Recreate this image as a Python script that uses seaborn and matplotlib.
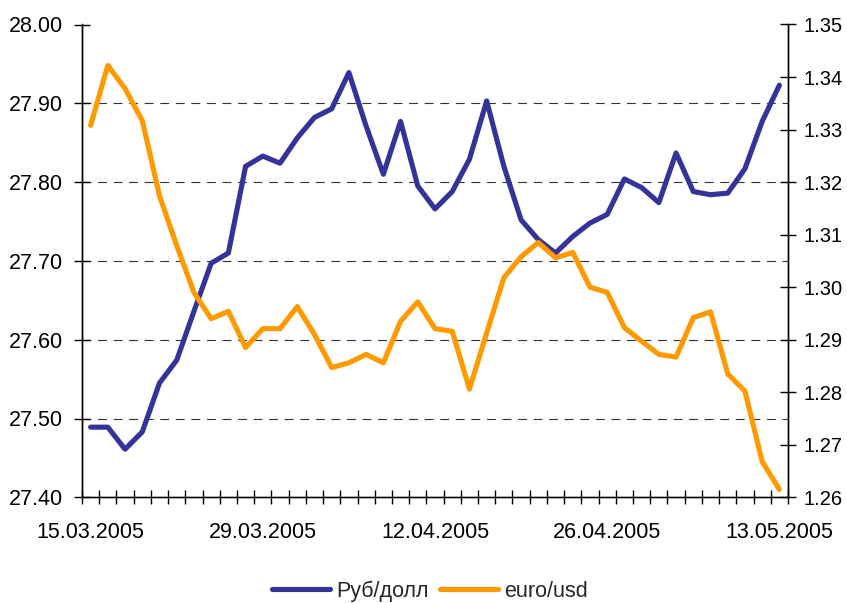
import matplotlib
matplotlib.use("Agg")
import matplotlib.pyplot as plt
import seaborn as sns
import pandas as pd
import numpy as np
from matplotlib.ticker import FixedLocator

# ---- data ----
tick_labels = ["15.03.2005", "29.03.2005", "12.04.2005", "26.04.2005", "13.05.2005"]
rub_usd = [27.489, 27.489, 27.461, 27.483, 27.545, 27.574, 27.636, 27.697, 27.710, 27.820,
           27.833, 27.824, 27.856, 27.882, 27.893, 27.939, 27.871, 27.810, 27.877, 27.795,
           27.766, 27.788, 27.829, 27.903, 27.820, 27.752, 27.727, 27.710, 27.731, 27.748,
           27.759, 27.804, 27.793, 27.774, 27.837, 27.788, 27.784, 27.786, 27.817, 27.877,
           27.923]
euro_usd = [1.3308, 1.3422, 1.3378, 1.3317, 1.3174, 1.3079, 1.2990, 1.2940, 1.2954, 1.2885,
            1.2921, 1.2921, 1.2963, 1.2910, 1.2847, 1.2856, 1.2872, 1.2856, 1.2935, 1.2972,
            1.2921, 1.2916, 1.2806, 1.2913, 1.3018, 1.3058, 1.3085, 1.3056, 1.3066, 1.3000,
            1.2990, 1.2923, 1.2897, 1.2872, 1.2867, 1.2942, 1.2953, 1.2835, 1.2802, 1.2668,
            1.2615]
series_names = ["Руб/долл", "euro/usd"]
colors = ["#333399", "#FF9900"]

n = len(rub_usd)
df = pd.DataFrame({"idx": np.arange(n), "rub": rub_usd, "eur": euro_usd})

sns.set_style("white")
plt.rcParams["font.family"] = ["Liberation Sans", "DejaVu Sans"]

fig = plt.figure(figsize=(8.47, 6.03), dpi=100)
ax = fig.add_axes([82 / 847, 1 - 497.3 / 603, (788 - 82) / 847, (497.3 - 24.5) / 603])
ax2 = ax.twinx()

sns.lineplot(data=df, x="idx", y="rub", ax=ax, color=colors[0], linewidth=3.7,
             label=series_names[0], legend=False)
sns.lineplot(data=df, x="idx", y="eur", ax=ax2, color=colors[1], linewidth=3.7,
             label=series_names[1], legend=False)

ax.set_xlim(-0.5, n - 0.5)
ax.set_ylim(27.4, 28.0)
ax2.set_ylim(1.26, 1.35)
ax.set_xlabel("")
ax.set_ylabel("")
ax2.set_ylabel("")

# grid lines (dashed)
for v in [27.5, 27.6, 27.7, 27.8, 27.9]:
    ax.axhline(v, color="#333333", linewidth=0.8, linestyle=(0, (8, 6)), zorder=0)

# y ticks
ax.set_yticks(np.round(np.arange(27.4, 28.001, 0.1), 2))
ax.set_yticklabels([f"{v:.2f}" for v in np.arange(27.4, 28.001, 0.1)])
ax2.set_yticks(np.round(np.arange(1.26, 1.3501, 0.01), 2))
ax2.set_yticklabels([f"{v:.2f}" for v in np.arange(1.26, 1.3501, 0.01)])

# x ticks
ax.set_xticks([0, 10, 20, 30, 40])
ax.set_xticklabels(tick_labels)
ax.xaxis.set_minor_locator(FixedLocator(np.arange(-0.5, n, 1.0)))

for a in (ax, ax2):
    for s in a.spines.values():
        s.set_color("black")
        s.set_linewidth(1.0)
    a.spines["top"].set_visible(False)

fs = 15.5
ax.tick_params(axis="y", direction="inout", length=12, width=1, labelsize=fs,
               pad=8, left=True, colors="black")
ax2.tick_params(axis="y", direction="inout", length=12, width=1, labelsize=14.5,
                pad=5, right=True, colors="black")
ax.tick_params(axis="x", which="major", length=0, labelsize=fs, pad=18, colors="black")
ax.tick_params(axis="x", which="minor", direction="inout", length=10, width=1,
               bottom=True, color="black")
ax.spines["bottom"].set_color("#555555")

h1, l1 = ax.get_legend_handles_labels()
h2, l2 = ax2.get_legend_handles_labels()
fig.legend(h1 + h2, l1 + l2, loc="center", bbox_to_anchor=(430 / 847, 1 - 591 / 603),
           ncol=2, frameon=False, fontsize=fs, handlelength=2.7, handletextpad=0.3,
           columnspacing=0.5)

fig.savefig("out.png", dpi=100)
